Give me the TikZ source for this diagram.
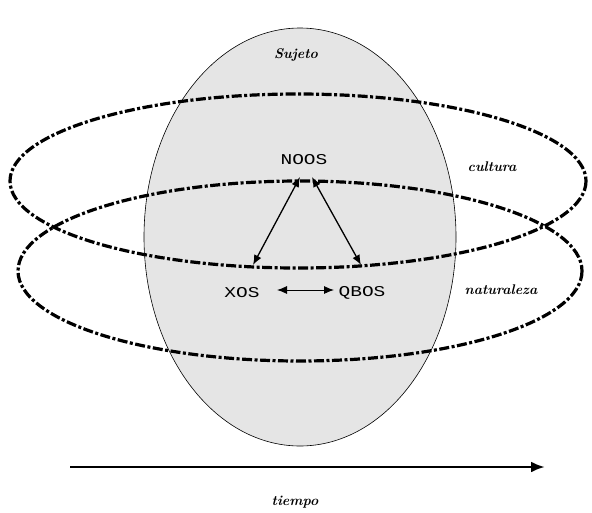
\documentclass[tikz,border=0pt]{standalone}
\usepackage{fontspec}
\newfontfamily\capsfont[FakeStretch=1.3]{Liberation Mono}
\usetikzlibrary{arrows.meta,shapes.geometric,calc}
\begin{document}
\begin{tikzpicture}[x=1pt,y=-1pt,
  ring/.style={line width=3.2pt,dash pattern=on 10pt off 2.5pt on 3pt off 2.5pt},
  caps/.style={font=\capsfont\fontsize{15}{15}\selectfont},
  lab/.style={font=\fontsize{14}{14}\selectfont\bfseries\itshape},
  link/.style={line width=1.3pt,{Latex[length=10pt,width=8pt]}-{Latex[length=10pt,width=8pt]}}]
\useasboundingbox (0,0) rectangle (592,512);
\fill[white] (0,0) rectangle (592,512);
\node[draw=black,line width=0.6pt,fill=black!10,ellipse,minimum width=312pt,minimum height=418pt,inner sep=0pt] (self) at (300,237) {};
\draw[ring] (298,181) ellipse [x radius=288, y radius=87];
\draw[ring] (300,271) ellipse [x radius=282, y radius=90];
\node[lab] (sujeto) at (296,55) {Sujeto};
\node[caps] (noos) at (304,160) {NOOS};
\node[caps] (xos) at (242,293) {XOS};
\node[caps] (qbos) at (362,293) {QBOS};
\node[lab] (cultura) at (492,167) {cultura};
\node[lab] (nat) at (501,290) {naturaleza};
\node[lab] (tiempo) at (295,502) {tiempo};
\coordinate (n1) at (300,177);
\coordinate (n2) at (312,177);
\coordinate (a1) at (253,265);
\coordinate (a2) at (361,265);
\coordinate (h1) at (277,290);
\coordinate (h2) at (334,290);
\draw[link] (n1) -- (a1);
\draw[link] (n2) -- (a2);
\draw[link,line width=0.9pt] (h1) -- (h2);
\coordinate (t0) at (70,467);
\coordinate (t1) at (545,467);
\draw[line width=2.8pt,-{Latex[length=14pt,width=11pt]}] (t0) -- (t1);
\end{tikzpicture}
\end{document}
